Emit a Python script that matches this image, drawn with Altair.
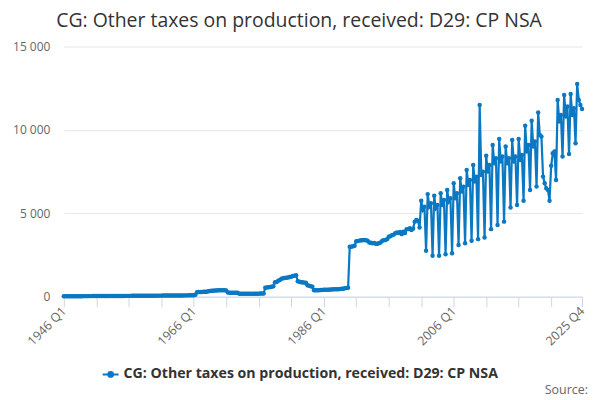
import pandas as pd
import altair as alt

# quarterly values (£m)
vals_1946_1965 = [
    25, 26, 26, 27,  27, 28, 28, 29,  29, 30, 31, 31,  32, 32, 33, 33,
    34, 34, 35, 36,  36, 37, 37, 38,  38, 39, 40, 40,  41, 41, 42, 43,
    43, 44, 44, 45,  46, 46, 47, 48,  48, 49, 50, 51,  51, 52, 53, 54,
    55, 55, 56, 57,  58, 58, 59, 60,  61, 62, 62, 63,  64, 65, 66, 67,
    68, 69, 69, 70,  71, 72, 73, 74,  75, 76, 77, 78,  79, 80, 81, 82,
]
vals_1966_1989 = [
    85, 120, 270, 280,     280, 285, 290, 290,     300, 320, 340, 350,
    360, 370, 375, 380,    380, 385, 385, 380,     375, 250, 240, 240,
    240, 235, 235, 235,    180, 175, 175, 175,     170, 170, 175, 175,
    175, 180, 180, 180,    180, 185, 185, 185,     530, 550, 560, 580,
    600, 620, 870, 880,    950, 1000, 1080, 1100,  1120, 1140, 1150, 1180,
    1200, 1240, 1260, 1290, 930, 900, 870, 860,    840, 830, 680, 650,
    620, 600, 380, 380,    390, 390, 400, 400,     410, 410, 420, 420,
    430, 430, 440, 440,    450, 450, 460, 470,     480, 500, 520, 540,
]
vals_1990_2000 = [
    2990, 3000, 3020, 3050,  3320, 3340, 3360, 3380,  3380, 3400, 3380, 3350,
    3250, 3230, 3200, 3220,  3180, 3170, 3200, 3250,  3350, 3380, 3400, 3450,
    3590, 3620, 3680, 3720,  3800, 3850, 3820, 3880,  3750, 3900, 3820, 4050,
    4050, 4100, 4000, 4080,  4500, 4600, 4550, 4150,
]
vals_2001_2025 = [
    5750, 5200, 5400, 2750,    6150, 5400, 5600, 2450,    6050, 5300, 5500, 2450,
    6200, 5500, 5800, 2550,    6400, 5700, 5900, 2600,    6800, 5900, 6200, 3100,
    7100, 6300, 6600, 3200,    7600, 6700, 7000, 3350,    7900, 6900, 7200, 3450,
    11500, 7300, 7500, 3550,   8450, 7500, 7900, 4050,    9100, 8000, 8300, 4300,
    9450, 8100, 8400, 4500,    9000, 8000, 8300, 5350,    9400, 8100, 8400, 5500,
    9450, 8200, 8500, 5750,    10250, 8700, 9100, 6400,   10550, 9000, 9300, 6600,
    11050, 9700, 9600, 7200,   6800, 6500, 6400, 5750,    7850, 8600, 8700, 7000,
    11800, 10500, 10900, 8400, 12100, 10800, 11400, 8550, 12150, 10900, 11300, 9200,
    12750, 11800, 11500, 11250,
]

years = list(range(1946, 2026))
quarters = ['Q1', 'Q2', 'Q3', 'Q4']
periods = [f'{y} {q}' for y in years for q in quarters]
values = vals_1946_1965 + vals_1966_1989 + vals_1990_2000 + vals_2001_2025

series_name = 'CG: Other taxes on production, received: D29: CP NSA'
df = pd.DataFrame({'period': periods, 'value': values, 'series': series_name})

tick_periods = periods[::20] + [periods[-1]]
label_periods = ['1946 Q1', '1966 Q1', '1986 Q1', '2006 Q1', '2025 Q4']
label_expr = "indexof(" + str(label_periods) + ", datum.label) >= 0 ? datum.label : ''"

blue = '#0a78c2'
font = 'Open Sans'

line = alt.Chart(df).mark_line(
    strokeWidth=2.2,
    point=alt.OverlayMarkDef(filled=True, size=20)
).encode(
    x=alt.X('period:O',
            scale=alt.Scale(type='point', padding=0),
            axis=alt.Axis(values=tick_periods, labelExpr=label_expr, labelAngle=-45,
                          labelAlign='right', labelBaseline='middle', labelOverlap=False,
                          labelFontSize=12.5, labelColor='#666666', labelFont=font,
                          domainColor='#ccd6eb', tickColor='#ccd6eb', tickSize=10,
                          labelPadding=2, grid=False, title=None)),
    y=alt.Y('value:Q',
            scale=alt.Scale(domain=[0, 15000]),
            axis=alt.Axis(values=[0, 5000, 10000, 15000],
                          labelExpr="replace(format(datum.value, ','), ',', ' ')",
                          labelFontSize=12, labelColor='#666666', labelFont=font,
                          labelPadding=14, domain=False, ticks=False,
                          gridColor='#e6e6e6', title=None)),
    color=alt.Color('series:N', scale=alt.Scale(range=[blue]),
                    legend=alt.Legend(orient='none', legendX=38, legendY=320, title=None,
                                      symbolType='M-1,0H1M-0.3,0a0.3,0.3 0 1,0 0.6,0a0.3,0.3 0 1,0 -0.6,0',
                                      symbolSize=256, symbolStrokeWidth=2, labelLimit=600,
                                      labelFont=font, labelFontWeight='bold',
                                      labelFontSize=14.2, labelColor='#333333'))
)

source = alt.Chart(pd.DataFrame({'t': ['Source:']})).mark_text(
    align='right', baseline='middle', fontSize=12.5, font=font, color='#666666'
).encode(text='t:N', x=alt.value(526), y=alt.value(345))

chart = alt.layer(line, source).properties(
    width=520,
    height=251,
    padding={'left': 56, 'top': 38, 'right': 10, 'bottom': 100},
    autosize=alt.AutoSizeParams(type='none'),
    title=alt.TitleParams(series_name, fontSize=19.5, font=font, fontWeight='normal',
                          color='#333333', anchor='middle', dx=-24, offset=9)
).configure_view(strokeWidth=0)

chart.save("out.html", embed_options={"renderer": "svg", "actions": False})
